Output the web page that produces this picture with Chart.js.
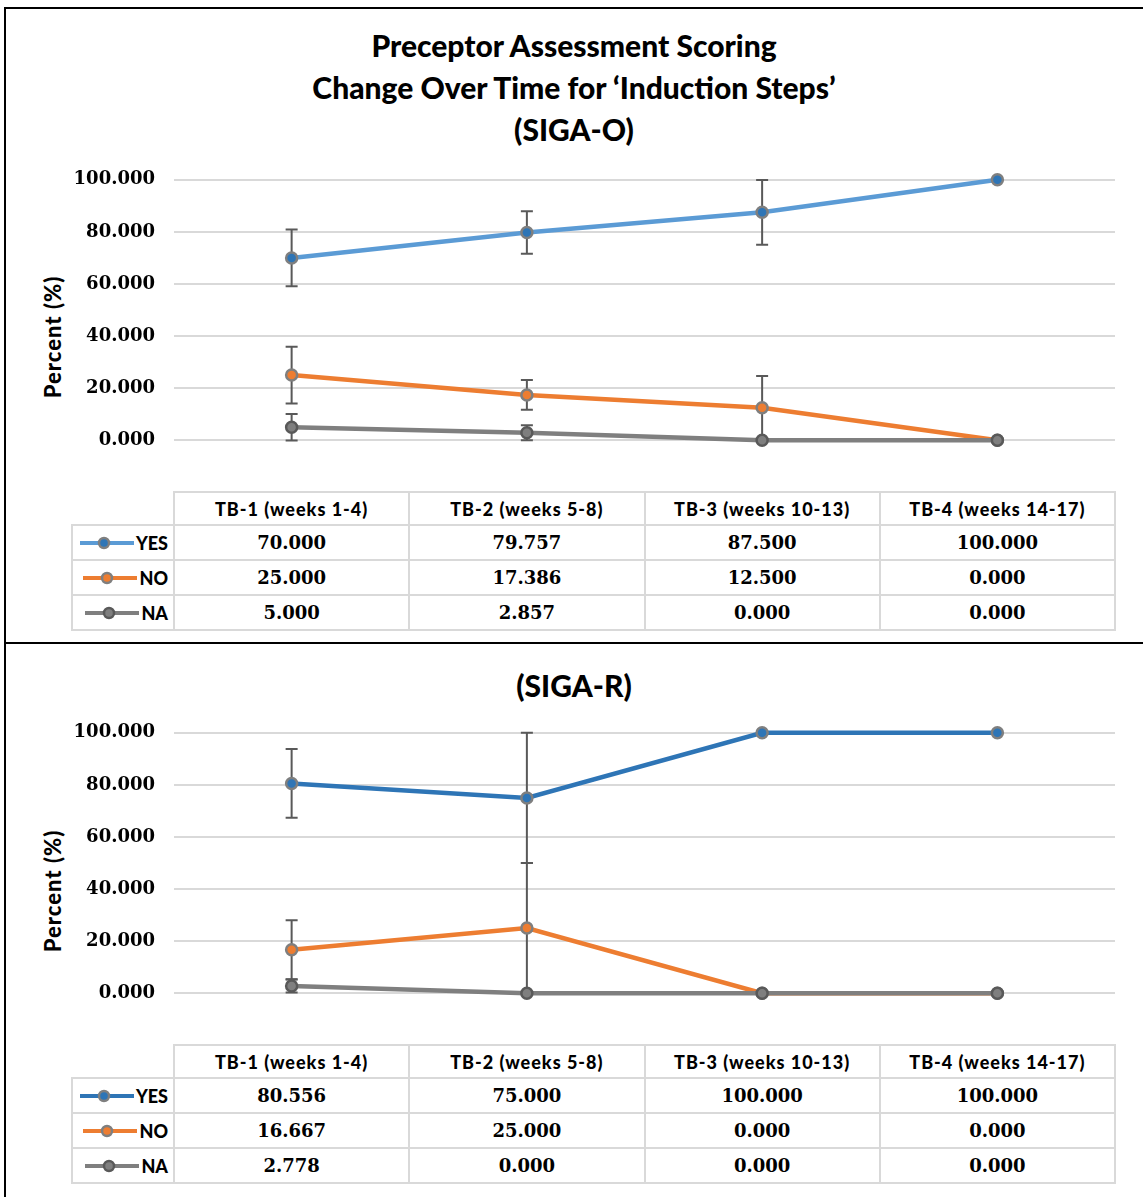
<!DOCTYPE html>
<html>
<head>
<meta charset="utf-8">
<title>Preceptor Assessment Scoring</title>
<script src="https://cdn.jsdelivr.net/npm/chart.js@4.4.0/dist/chart.umd.min.js"></script>
<style>
  body { margin: 0; background: #fff; }
  #page { position: relative; width: 1143px; height: 1197px; overflow: hidden; background: #fff; }
  .rule { position: absolute; background: #000; }
  .title { position: absolute; left: 5px; width: 1138px; text-align: center; font: 900 30px/42px Lato, sans-serif; color: #000; }
  .ytitle { position: absolute; width: 200px; height: 26px; line-height: 26px; text-align: center;
            font: 900 22px Lato, sans-serif; letter-spacing: 1px; color: #000; transform: rotate(-90deg); }
  canvas { position: absolute; left: 0; }
  .cell { position: absolute; box-sizing: border-box; border: 2px solid #d9d9d9; display: flex;
          align-items: center; justify-content: center; color: #000; }
  .head { font: 900 18px Lato, sans-serif; letter-spacing: 1px; }
  .num { font: bold 18px 'DejaVu Serif', serif; }
  .key { justify-content: flex-end; padding-right: 5px; font: 900 18px Lato, sans-serif; }
  .key svg { margin-right: 1px; }
</style>
</head>
<body>
<div id="page">
  <div class="rule" style="left:4px; top:7px; width:1139px; height:2px;"></div>
  <div class="rule" style="left:4px; top:7px; width:2px; height:1190px;"></div>
  <div class="rule" style="left:4px; top:642px; width:1139px; height:2px;"></div>

  <div class="title" style="top:24px;">Preceptor Assessment Scoring<br>Change Over Time for ‘Induction Steps’<br>(SIGA-O)</div>
  <div class="title" style="top:664px;">(SIGA-R)</div>

  <div class="ytitle" style="left:-48px; top:324px;">Percent (%)</div>
  <div class="ytitle" style="left:-48px; top:878px;">Percent (%)</div>

  <canvas id="chartO" width="1143" height="320"></canvas>
  <canvas id="chartR" width="1143" height="320"></canvas>
</div>

<script>
// time blocks shared by both panels
const categories = ['TB-1 (weeks 1-4)', 'TB-2 (weeks 5-8)', 'TB-3 (weeks 10-13)', 'TB-4 (weeks 14-17)'];
const yTickValues = [0, 20, 40, 60, 80, 100];
const seriesNames = ['YES', 'NO', 'NA'];

// SIGA-O
const sigaOYes = [70.000, 79.757, 87.500, 100.000];
const sigaONo = [25.000, 17.386, 12.500, 0.000];
const sigaONa = [5.000, 2.857, 0.000, 0.000];
const sigaOYesErr = [10.9, 8.2, 12.4, 0];
const sigaONoErr = [10.9, 5.7, 12.2, 0];
const sigaONaErr = [5.1, 2.9, 0, 0];

// SIGA-R
const sigaRYes = [80.556, 75.000, 100.000, 100.000];
const sigaRNo = [16.667, 25.000, 0.000, 0.000];
const sigaRNa = [2.778, 0.000, 0.000, 0.000];
const sigaRYesErr = [13.2, 25, 0, 0];
const sigaRNoErr = [11.3, 25, 0, 0];
const sigaRNaErr = [2.5, 0, 0, 0];

const ERR_COLOR = '#595959';
const GRID_COLOR = '#d9d9d9';

// vertical error bars with caps, drawn under the lines and markers
const errorBars = {
    id: 'errorBars',
    beforeDatasetsDraw(chart) {
        const ctx = chart.ctx;
        const yScale = chart.scales.y;
        ctx.save();
        ctx.strokeStyle = ERR_COLOR;
        ctx.lineWidth = 2;
        chart.data.datasets.forEach((ds, i) => {
            const meta = chart.getDatasetMeta(i);
            (ds.errors || []).forEach((e, j) => {
                if (!e) return;
                const x = meta.data[j].x;
                const top = yScale.getPixelForValue(ds.data[j] + e);
                const bot = yScale.getPixelForValue(ds.data[j] - e);
                ctx.beginPath();
                ctx.moveTo(x, top); ctx.lineTo(x, bot);
                ctx.moveTo(x - 6, top); ctx.lineTo(x + 6, top);
                ctx.moveTo(x - 6, bot); ctx.lineTo(x + 6, bot);
                ctx.stroke();
            });
        });
        ctx.restore();
    }
};

function makeSeries(label, values, errors, line, fill, border, order) {
    return {
        label, data: values, errors, order,
        borderColor: line, borderWidth: 4.5,
        pointRadius: 5.5, pointBorderWidth: 2.5,
        pointBackgroundColor: fill, pointBorderColor: border,
        tension: 0, fill: false, clip: false
    };
}

// plotTop / plotBottom are page coordinates of the 100 and 0 gridlines
function buildPanel(canvasId, plotTop, plotBottom, series) {
    const canvas = document.getElementById(canvasId);
    const chart = new Chart(canvas, {
        type: 'line',
        data: {
            labels: categories,
            datasets: series.map((s, k) => makeSeries(seriesNames[k], s.values, s.errors, s.line, s.fill, s.border, 2 - k))
        },
        options: {
            responsive: false,
            animation: false,
            devicePixelRatio: 1,
            layout: { padding: { top: 20, bottom: 20, left: 0, right: 28 } },
            plugins: { legend: { display: false }, tooltip: { enabled: false }, title: { display: false } },
            scales: {
                x: { type: 'category', offset: true, display: false },
                y: {
                    min: 0, max: 100,
                    afterBuildTicks: scale => { scale.ticks = yTickValues.map(v => ({ value: v })); },
                    afterFit: scale => { scale.width = 174; },
                    border: { display: false },
                    grid: { color: GRID_COLOR, lineWidth: 2, drawTicks: false },
                    ticks: {
                        padding: 19, color: '#000',
                        font: { family: 'DejaVu Serif', weight: 'bold', size: 18 },
                        callback: v => v.toFixed(3)
                    }
                }
            }
        },
        plugins: [errorBars]
    });

    // size the canvas so the plot area spans plotTop..plotBottom
    const a = chart.chartArea;
    const above = a.top, below = canvas.height - a.bottom;
    chart.resize(1143, Math.round(above + (plotBottom - plotTop) + below));
    const canvasTop = plotTop - chart.chartArea.top;
    canvas.style.top = canvasTop + 'px';

    buildTable(chart, canvasTop, series);
    return chart;
}

function keyIcon(line, fill, border) {
    return `<svg width="56" height="16" viewBox="0 0 56 16">
        <line x1="1" y1="8" x2="55" y2="8" stroke="${line}" stroke-width="4"/>
        <circle cx="25" cy="8" r="5" fill="${fill}" stroke="${border}" stroke-width="2.5"/></svg>`;
}

// data table under the plot, columns follow the category scale
function buildTable(chart, canvasTop, series) {
    const page = document.getElementById('page');
    const area = chart.chartArea;
    const step = area.width / categories.length;
    const colEdges = [72, area.left];
    categories.forEach((c, i) => colEdges.push(area.left + step * (i + 1)));
    const base = canvasTop + area.bottom;
    const rowEdges = [52, 85, 120, 155, 190].map(d => base + d);

    const addCell = (r, c, cls, html) => {
        const d = document.createElement('div');
        d.className = 'cell ' + cls;
        d.style.left = (colEdges[c] - 1) + 'px';
        d.style.top = (rowEdges[r] - 1) + 'px';
        d.style.width = (colEdges[c + 1] - colEdges[c] + 2) + 'px';
        d.style.height = (rowEdges[r + 1] - rowEdges[r] + 2) + 'px';
        d.innerHTML = html;
        page.appendChild(d);
    };

    categories.forEach((c, i) => addCell(0, i + 1, 'head', c));
    series.forEach((s, k) => {
        addCell(k + 1, 0, 'key', keyIcon(s.line, s.fill, s.border) + seriesNames[k]);
        s.values.forEach((v, i) => addCell(k + 1, i + 1, 'num', v.toFixed(3)));
    });
}

document.addEventListener('DOMContentLoaded', () => {
    buildPanel('chartO', 180, 440, [
        { values: sigaOYes, errors: sigaOYesErr, line: '#5b9bd5', fill: '#2e75b6', border: '#7f7f7f' },
        { values: sigaONo, errors: sigaONoErr, line: '#ed7d31', fill: '#ed7d31', border: '#7f7f7f' },
        { values: sigaONa, errors: sigaONaErr, line: '#7f7f7f', fill: '#7f7f7f', border: '#595959' }
    ]);
    buildPanel('chartR', 733, 994, [
        { values: sigaRYes, errors: sigaRYesErr, line: '#2e75b6', fill: '#2e75b6', border: '#7f7f7f' },
        { values: sigaRNo, errors: sigaRNoErr, line: '#ed7d31', fill: '#ed7d31', border: '#7f7f7f' },
        { values: sigaRNa, errors: sigaRNaErr, line: '#7f7f7f', fill: '#7f7f7f', border: '#595959' }
    ]);
});
</script>
</body>
</html>
